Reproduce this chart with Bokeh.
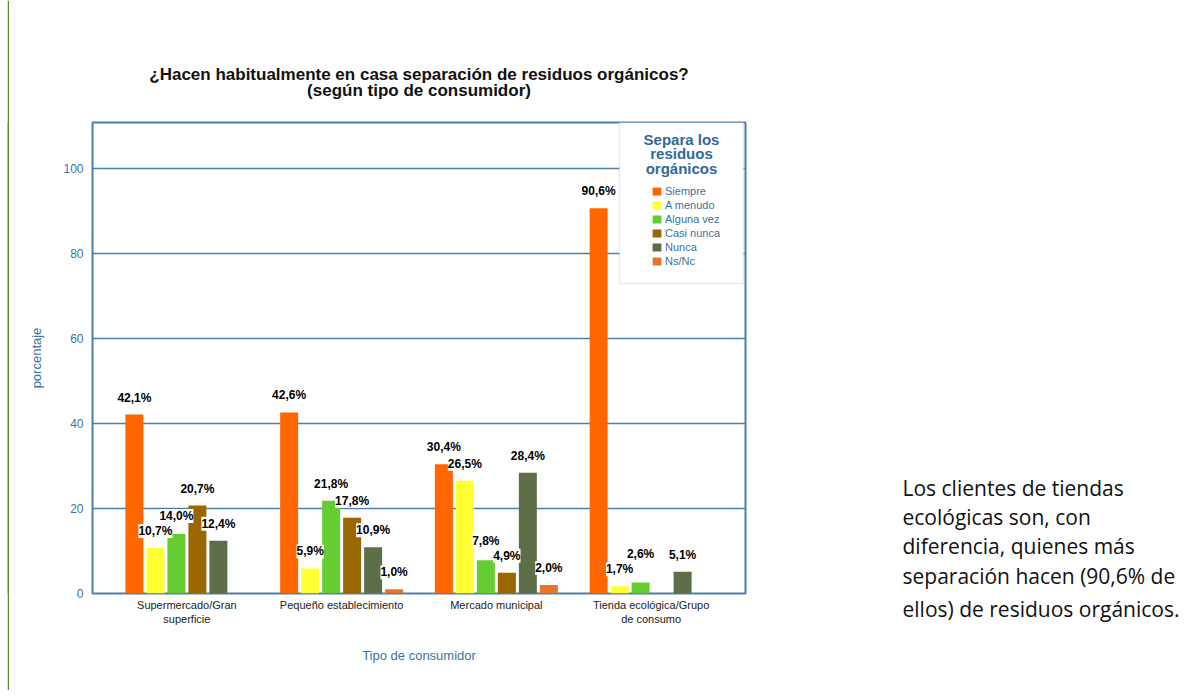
from bokeh.plotting import figure
from bokeh.models import (Range1d, FixedTicker, ColumnDataSource, LabelSet, Legend,
                          LegendItem, BoxAnnotation, Label, Title, Spacer)
from bokeh.layouts import row
from bokeh.embed import file_html
from bokeh.resources import INLINE
from bokeh.core.properties import value

# ---------------- data ----------------
categories = ["Supermercado/Gran\nsuperficie", "Pequeño establecimiento",
              "Mercado municipal", "Tienda ecológica/Grupo\nde consumo"]
series = ["Siempre", "A menudo", "Alguna vez", "Casi nunca", "Nunca", "Ns/Nc"]
siempre = [42.1, 42.6, 30.4, 90.6]
a_menudo = [10.7, 5.9, 26.5, 1.7]
alguna_vez = [14.0, 21.8, 7.8, 2.6]
casi_nunca = [20.7, 17.8, 4.9, 0.0]
nunca = [12.4, 10.9, 28.4, 5.1]
ns_nc = [0.0, 1.0, 2.0, 0.0]
y_ticks = [0, 20, 40, 60, 80, 100]

title_lines = ["¿Hacen habitualmente en casa separación de residuos orgánicos?",
               "(según tipo de consumidor)"]
legend_title = "Separa los\nresiduos\norgánicos"
note_lines = ["Los clientes de tiendas", "ecológicas son, con", "diferencia, quienes más",
              "separación hacen (90,6% de", "ellos) de residuos orgánicos."]

# ---------------- styles ----------------
colors = ["#ff6600", "#ffff33", "#66cc33", "#996600", "#5e6e48", "#e8742c"]
BLUE = "#4a80ab"
TXT_BLUE = "#3a73a6"
FONT = "Liberation Sans"

H = 690
FRAME_W, FRAME_H = 653, 471
BL, BT, BR = 83, 122, 100
BB = H - BT - FRAME_H
X0, X1 = -0.61, 3.61
Y0, Y1 = 0, 110.8
PITCH = 0.1357
BAR_W = 0.1163
ppu = FRAME_H / (Y1 - Y0)          # pixels per y unit
xpu = FRAME_W / (X1 - X0)          # pixels per x unit

def px_x(px):   # frame-relative px -> data x
    return X0 + px / xpu

def px_y(px):   # px from frame top -> data y
    return Y1 - px / ppu

p = figure(width=BL + FRAME_W + BR, height=H,
           x_range=Range1d(X0, X1), y_range=Range1d(Y0, Y1),
           output_backend="svg", toolbar_location=None,
           min_border_left=BL, min_border_right=BR, min_border_top=BT, min_border_bottom=BB)

p.outline_line_color = BLUE
p.outline_line_width = 2
p.background_fill_color = "white"
p.border_fill_color = "white"

p.xgrid.grid_line_color = None
p.ygrid.ticker = FixedTicker(ticks=y_ticks)
p.ygrid.grid_line_color = BLUE
p.ygrid.grid_line_width = 1.5

p.yaxis.ticker = FixedTicker(ticks=y_ticks)
p.yaxis.axis_line_color = None
p.yaxis.major_tick_line_color = None
p.yaxis.minor_tick_line_color = None
p.yaxis.major_tick_out = 0
p.yaxis.major_label_standoff = 9
p.yaxis.major_label_text_font = FONT
p.yaxis.major_label_text_font_size = "12px"
p.yaxis.major_label_text_color = TXT_BLUE
p.yaxis.axis_label = "porcentaje"
p.yaxis.axis_label_text_font = FONT
p.yaxis.axis_label_text_font_size = "13px"
p.yaxis.axis_label_text_font_style = "normal"
p.yaxis.axis_label_text_color = TXT_BLUE
p.yaxis.axis_label_standoff = 16

p.xaxis.ticker = FixedTicker(ticks=list(range(len(categories))))
p.xaxis.major_label_overrides = {i: c for i, c in enumerate(categories)}
p.xaxis.axis_line_color = None
p.xaxis.major_tick_line_color = None
p.xaxis.minor_tick_line_color = None
p.xaxis.major_tick_out = 0
p.xaxis.major_label_standoff = 5
p.xaxis.major_label_text_font = FONT
p.xaxis.major_label_text_font_size = "11px"
p.xaxis.major_label_text_color = "#222222"
p.xaxis.axis_label = "Tipo de consumidor"
p.xaxis.axis_label_text_font = FONT
p.xaxis.axis_label_text_font_size = "13px"
p.xaxis.axis_label_text_font_style = "normal"
p.xaxis.axis_label_text_color = TXT_BLUE
p.xaxis.axis_label_standoff = 20

# chart title: two centred lines (second line added first = closest to frame)
t2 = Title(text=title_lines[1], align="center", standoff=46,
           text_font=FONT, text_font_size="17px", text_font_style="bold",
           text_color="#111111")
t1 = Title(text=title_lines[0], align="center", standoff=-57,
           text_font=FONT, text_font_size="17px", text_font_style="bold",
           text_color="#111111")
p.add_layout(t2, "above")
p.add_layout(t1, "above")

all_vals = [siempre, a_menudo, alguna_vez, casi_nunca, nunca, ns_nc]

# bars
renderers = []
for k, (name, vals) in enumerate(zip(series, all_vals)):
    xs = [i + (k - 2.5) * PITCH for i in range(len(categories)) if vals[i] > 0]
    hs = [v for v in vals if v > 0]
    src = ColumnDataSource(dict(x=xs, top=hs))
    r = p.vbar(x="x", top="top", bottom=0, width=BAR_W, source=src,
               fill_color=colors[k], line_color=None)
    renderers.append(r)

# data labels with simple collision avoidance
GAP = 10.0
MIN_SEP = 15.0
lab = {}
for i in range(len(categories)):
    prev_k = None
    for k in range(len(series)):
        v = all_vals[k][i]
        if v <= 0:
            prev_k = None
            continue
        h = v * ppu + GAP
        if prev_k is not None:
            hp = lab[(i, prev_k)]
            if abs(h - hp) < MIN_SEP:
                if v >= all_vals[prev_k][i]:
                    h = hp + MIN_SEP
                else:
                    lab[(i, prev_k)] = h + MIN_SEP
        lab[(i, k)] = h
        prev_k = k

lx, ly, lt = [], [], []
for (i, k), h in lab.items():
    lx.append(i + (k - 2.5) * PITCH)
    ly.append(h / ppu)
    lt.append(f"{all_vals[k][i]:.1f}".replace(".", ",") + "%")
lsrc = ColumnDataSource(dict(x=lx, y=ly, t=lt))
labels = LabelSet(x="x", y="y", text="t", source=lsrc, text_align="center",
                  text_baseline="bottom", text_font=value(FONT), text_font_size="12px",
                  text_font_style="bold", text_color="black",
                  background_fill_color="white")
p.add_layout(labels)

# legend box
LEG_L, LEG_R, LEG_T, LEG_B = 527, 651, 0, 161   # frame-relative px
box = BoxAnnotation(left=px_x(LEG_L), right=px_x(LEG_R), top=px_y(LEG_T), bottom=px_y(LEG_B),
                    fill_color="white", fill_alpha=1.0, line_color="#aab8c6", line_width=1.5)
p.add_layout(box)

lt_label = Label(x=px_x((LEG_L + LEG_R) / 2), y=px_y(8), text=legend_title,
                 text_align="center", text_baseline="top", text_font=FONT,
                 text_font_size="15px", text_font_style="bold", text_color="#2f6a9c",
                 text_line_height=0.88)
p.add_layout(lt_label)

LEG_ITEMS_TOP = 63
LEG_ITEMS_H = 82
legend = Legend(items=[LegendItem(label=s, renderers=[r]) for s, r in zip(series, renderers)],
                location=(559, FRAME_H - LEG_ITEMS_TOP - LEG_ITEMS_H),
                padding=0, spacing=2, margin=0,
                glyph_width=11, glyph_height=10, label_height=10, label_standoff=3,
                label_text_font=FONT, label_text_font_size="11px", label_text_color=TXT_BLUE,
                border_line_color=None, background_fill_alpha=0)
p.add_layout(legend)

# green vertical rule at the far left
pad = Spacer(width=7, height=H)
g = figure(width=2, height=H, output_backend="svg", toolbar_location=None,
           min_border=0, x_range=Range1d(0, 1), y_range=Range1d(0, 1),
           background_fill_color="#5a8a30", border_fill_color="#5a8a30", outline_line_color=None)
g.axis.visible = False
g.grid.visible = False
g.scatter([0.5], [0.5], size=0, alpha=0)

# side note (frame of this figure lines up with the chart frame: page y 122..593)
TW = 345
NOTE_FONT = "Open Sans"
t = figure(width=TW, height=H, output_backend="svg", toolbar_location=None,
           min_border=0, x_range=Range1d(0, TW), y_range=Range1d(BT + FRAME_H, BT),
           outline_line_color=None)
t.axis.visible = False
t.grid.visible = False
t.text(x=[57], y=[473], text=["\n".join(note_lines[:4])], text_font=value(NOTE_FONT),
       text_font_size="21px", text_color="#111111", text_baseline="top",
       text_align="left", text_line_height=1.05)
t.add_layout(Title(text=note_lines[4], align="left", offset=57, standoff=-2,
                   text_font=NOTE_FONT, text_font_size="21px", text_font_style="normal",
                   text_color="#111111"), "below")

layout = row(pad, g, p, t)
open("out.html", "w").write(file_html(layout, INLINE))
